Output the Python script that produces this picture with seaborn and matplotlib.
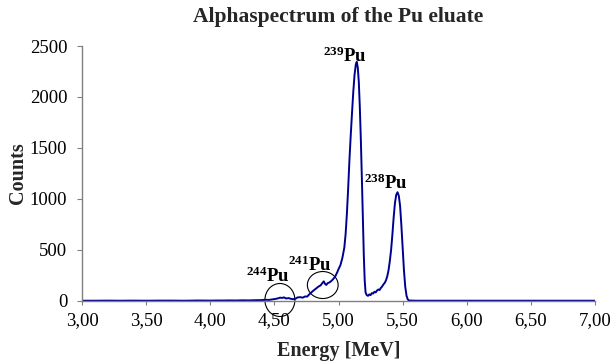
import matplotlib
matplotlib.use("Agg")
import matplotlib.pyplot as plt
from matplotlib.patches import Ellipse
import seaborn as sns
import pandas as pd

# energy [MeV] and counts
energy = [3.00, 3.10, 3.20, 3.30, 3.40, 3.50, 3.60, 3.70, 3.80, 3.90,
          4.00, 4.05, 4.10, 4.15, 4.20, 4.25, 4.30, 4.35, 4.40, 4.43,
          4.46, 4.49, 4.51, 4.53, 4.545, 4.56, 4.575, 4.59, 4.61, 4.63,
          4.65, 4.665, 4.68, 4.70, 4.72, 4.74, 4.755, 4.77, 4.785, 4.80,
          4.815, 4.83, 4.845, 4.86, 4.875, 4.885, 4.895, 4.905, 4.915, 4.93,
          4.945, 4.96, 4.975, 4.99, 5.00, 5.015, 5.03, 5.045, 5.055, 5.065,
          5.075, 5.085, 5.095, 5.105, 5.115, 5.125, 5.135, 5.142, 5.15, 5.158,
          5.166, 5.174, 5.182, 5.19, 5.197, 5.204, 5.211, 5.22, 5.23, 5.24,
          5.25, 5.26, 5.27, 5.28, 5.29, 5.30, 5.31, 5.32, 5.33, 5.34,
          5.35, 5.36, 5.37, 5.38, 5.39, 5.40, 5.41, 5.42, 5.43, 5.44,
          5.45, 5.46, 5.47, 5.48, 5.49, 5.50, 5.51, 5.52, 5.53, 5.54,
          5.55, 5.60, 5.80, 6.00, 6.20, 6.40, 6.60, 6.80, 7.00]
counts = [0, 0, 1, 0, 1, 0, 1, 1, 0, 2,
          1, 2, 2, 3, 2, 4, 3, 5, 6, 9,
          8, 14, 18, 24, 30, 27, 33, 22, 26, 18,
          15, 20, 32, 35, 30, 42, 40, 60, 78, 95,
          110, 125, 140, 150, 175, 190, 165, 155, 172, 180,
          195, 215, 240, 280, 310, 350, 420, 520, 650, 850,
          1100, 1380, 1620, 1840, 2050, 2220, 2320, 2345, 2290, 2150,
          1900, 1580, 1200, 800, 450, 200, 80, 55, 48, 62,
          55, 75, 70, 88, 82, 100, 110, 105, 125, 140,
          160, 175, 200, 240, 300, 390, 500, 650, 820, 960,
          1040, 1065, 1030, 930, 740, 520, 300, 140, 50, 12,
          2, 0, 0, 0, 0, 0, 0, 0, 0]

x_ticks = [3.0, 3.5, 4.0, 4.5, 5.0, 5.5, 6.0, 6.5, 7.0]
x_tick_labels = ["3,00", "3,50", "4,00", "4,50", "5,00", "5,50", "6,00", "6,50", "7,00"]
y_ticks = [0, 500, 1000, 1500, 2000, 2500]

# isotope labels: mass number and the label's left/baseline anchor
isotopes = ["244", "241", "239", "238"]
label_x = [4.28, 4.605, 4.88, 5.20]
label_y = [185, 295, 2345, 1100]

# circled regions: centre energy, centre counts, width [MeV], height [counts]
circle_x = [4.543, 4.877]
circle_y = [7, 154]
circle_w = [0.234, 0.240]
circle_h = [324, 265]

sns.set_style("ticks")
plt.rcParams["font.family"] = ["Liberation Serif", "DejaVu Serif"]
plt.rcParams["mathtext.fontset"] = "custom"
plt.rcParams["mathtext.rm"] = "Liberation Serif"
plt.rcParams["mathtext.bf"] = "Liberation Serif:bold"

df = pd.DataFrame({"Energy": energy, "Counts": counts})

fig = plt.figure(figsize=(6.13, 3.61), dpi=100)
ax = fig.add_axes([0.1338, 0.1670, 0.8369, 0.7055])

sns.lineplot(data=df, x="Energy", y="Counts", ax=ax, color="#000090",
             linewidth=1.4, sort=False, estimator=None)

for iso, ex, cy in zip(isotopes, label_x, label_y):
    ax.text(ex, cy, r"$\mathbf{^{%s}Pu}$" % iso, fontsize=13.5,
            ha="left", va="baseline", color="black")

for cx, cy, w, h in zip(circle_x, circle_y, circle_w, circle_h):
    ax.add_patch(Ellipse((cx, cy), w, h, fill=False, edgecolor="black",
                         linewidth=0.8, clip_on=False))

ax.set_xlim(3.0, 7.0)
ax.set_ylim(0, 2500)
ax.set_xticks(x_ticks)
ax.set_xticklabels(x_tick_labels)
ax.set_yticks(y_ticks)

sns.despine(ax=ax)
for side in ["left", "bottom"]:
    ax.spines[side].set_color("#808080")
    ax.spines[side].set_linewidth(1.0)
ax.tick_params(axis="both", colors="#808080", labelcolor="black", labelsize=13.5)
ax.tick_params(axis="y", length=3.6, pad=7)
ax.tick_params(axis="x", length=3, pad=5)

ax.set_title("Alphaspectrum of the Pu eluate", fontsize=15.5, fontweight="bold", pad=17)
ax.set_xlabel("Energy [MeV]", fontsize=14.5, fontweight="bold", labelpad=9)
ax.set_ylabel("Counts", fontsize=14.5, fontweight="bold", labelpad=1)

fig.savefig("out.png", dpi=100)
